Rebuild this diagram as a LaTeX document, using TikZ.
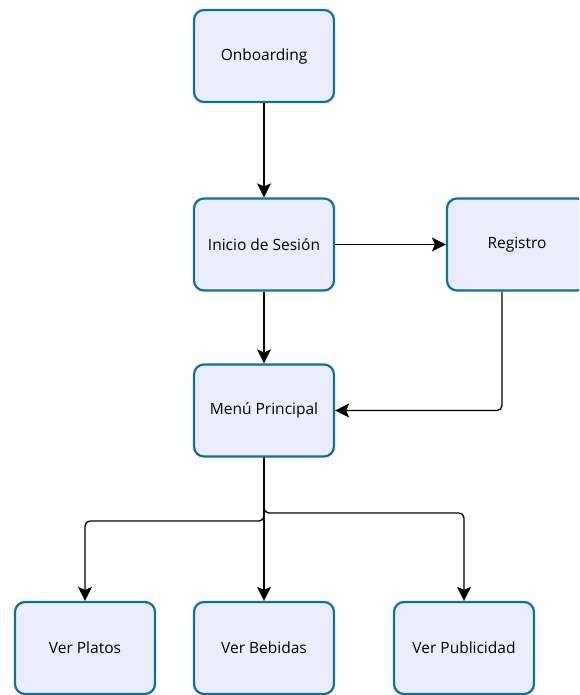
\documentclass[tikz,border=0pt]{standalone}
\usepackage{fontspec}
\setmainfont{Open Sans}
\usetikzlibrary{arrows.meta}
\definecolor{boxfill}{RGB}{234,237,252}
\definecolor{boxline}{RGB}{16,110,152}
\begin{document}
\begin{tikzpicture}[x=1pt,y=1pt,
  box/.style={draw=boxline, fill=boxfill, line width=2.2pt, rounded corners=10pt,
    minimum width=140pt, minimum height=92pt, inner sep=0pt, font=\fontsize{15.5}{17}\selectfont},
  conn/.style={draw=black, line width=1.3pt, rounded corners=5pt,
    -{Stealth[length=14pt,width=14pt,inset=3pt]}}]
\useasboundingbox (0,0) rectangle (579,-695);
\clip (0,0) rectangle (579,-695);
\node[box] (onb) at (264,-56) {Onboarding};
\node[box] (ini) at (264,-244.5) {Inicio de Sesión};
\node[box] (reg) at (517,-244.5) {Registro};
\node[box] (menu) at (264,-410.5) {Menú Principal};
\node[box] (platos) at (85,-648) {Ver Platos};
\node[box] (bebidas) at (264,-648) {Ver Bebidas};
\node[box] (publi) at (464,-648) {Ver Publicidad};
\coordinate (bl) at (264,-521);
\coordinate (br) at (264,-513);
\draw[conn] (onb) -- (ini);
\draw[conn] (ini) -- (reg);
\draw[conn] (ini) -- (menu);
\draw[conn] (reg.south -| 502,0) |- (menu.east);
\draw[conn] (menu.south) -- (bebidas.north);
\draw[conn] (menu.south) -- (bl) -| (platos.north);
\draw[conn] (menu.south) -- (br) -| (publi.north);
\end{tikzpicture}
\end{document}
